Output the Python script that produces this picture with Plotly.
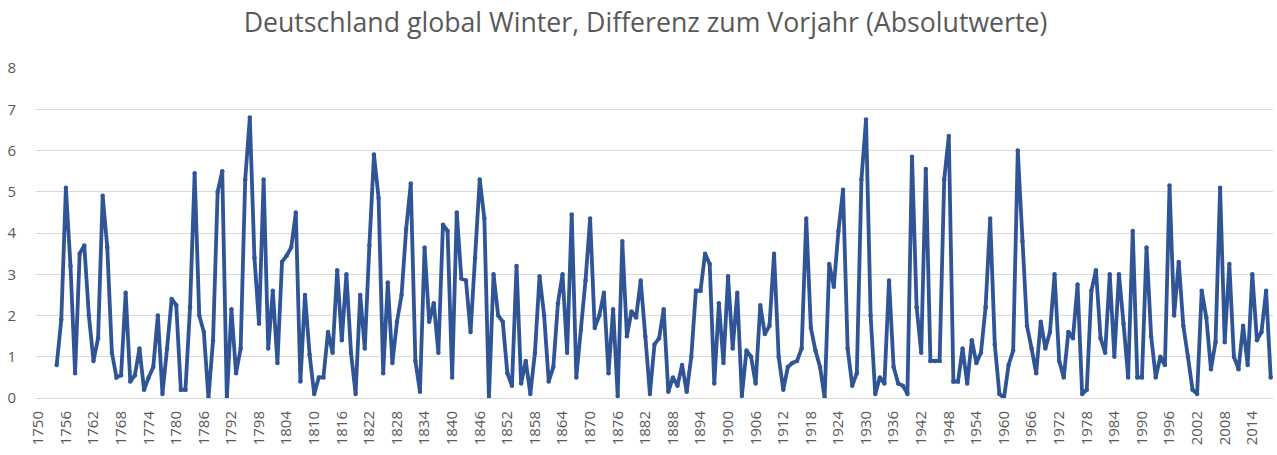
import plotly.graph_objects as go

years = list(range(1754, 2019))

values = [
    0.8, 1.9, 5.1, 3.2, 0.6, 3.5, 3.7, 2.0, 0.9, 1.45,            # 1754-1763
    4.9, 3.65, 1.1, 0.5, 0.55, 2.55, 0.4, 0.55, 1.2, 0.2,         # 1764-1773
    0.5, 0.75, 2.0, 0.1, 1.2, 2.4, 2.25, 0.2, 0.2, 2.2,           # 1774-1783
    5.45, 2.0, 1.6, 0.0, 1.4, 5.0, 5.5, 0.0, 2.15, 0.6,           # 1784-1793
    1.2, 5.3, 6.8, 3.4, 1.8, 5.3, 1.2, 2.6, 0.85, 3.3,            # 1794-1803
    3.45, 3.65, 4.5, 0.4, 2.5, 1.05, 0.1, 0.5, 0.5, 1.6,          # 1804-1813
    1.1, 3.1, 1.4, 3.0, 1.1, 0.1, 2.5, 1.2, 3.7, 5.9,             # 1814-1823
    4.85, 0.6, 2.8, 0.85, 1.85, 2.5, 4.1, 5.2, 0.9, 0.15,         # 1824-1833
    3.65, 1.85, 2.3, 1.1, 4.2, 4.05, 0.5, 4.5, 2.9, 2.85,         # 1834-1843
    1.6, 3.4, 5.3, 4.35, 0.0, 3.0, 2.0, 1.85, 0.6, 0.3,           # 1844-1853
    3.2, 0.35, 0.9, 0.1, 1.1, 2.95, 2.0, 0.4, 0.75, 2.3,          # 1854-1863
    3.0, 1.1, 4.45, 0.5, 1.65, 2.85, 4.35, 1.7, 2.0, 2.55,        # 1864-1873
    0.6, 2.15, 0.05, 3.8, 1.5, 2.1, 1.95, 2.85, 1.5, 0.1,         # 1874-1883
    1.3, 1.45, 2.15, 0.15, 0.5, 0.3, 0.8, 0.15, 1.0, 2.6,         # 1884-1893
    2.6, 3.5, 3.25, 0.35, 2.3, 0.85, 2.95, 1.2, 2.55, 0.05,       # 1894-1903
    1.15, 1.0, 0.35, 2.25, 1.55, 1.75, 3.5, 1.0, 0.2, 0.75,       # 1904-1913
    0.85, 0.9, 1.2, 4.35, 1.7, 1.15, 0.75, 0.0, 3.25, 2.7,        # 1914-1923
    4.05, 5.05, 1.2, 0.3, 0.6, 5.3, 6.75, 2.0, 0.1, 0.5,          # 1924-1933
    0.35, 2.85, 0.75, 0.35, 0.3, 0.1, 5.85, 2.2, 1.1, 5.55,       # 1934-1943
    0.9, 0.9, 0.9, 5.3, 6.35, 0.4, 0.4, 1.2, 0.35, 1.4,           # 1944-1953
    0.85, 1.1, 2.2, 4.35, 1.3, 0.1, 0.0, 0.8, 1.15, 6.0,          # 1954-1963
    3.8, 1.75, 1.2, 0.6, 1.85, 1.2, 1.6, 3.0, 0.9, 0.5,           # 1964-1973
    1.6, 1.45, 2.75, 0.1, 0.2, 2.6, 3.1, 1.45, 1.1, 3.0,          # 1974-1983
    1.0, 3.0, 1.8, 0.5, 4.05, 0.5, 0.5, 3.65, 1.5, 0.5,           # 1984-1993
    1.0, 0.8, 5.15, 2.0, 3.3, 1.75, 1.0, 0.2, 0.1, 2.6,           # 1994-2003
    1.95, 0.7, 1.35, 5.1, 1.35, 3.25, 1.0, 0.7, 1.75, 0.8,        # 2004-2013
    3.0, 1.4, 1.6, 2.6, 0.5,                                      # 2014-2018
]

tick_years = list(range(1750, 2015, 6))
tick_labels = [str(y) for y in tick_years]
y_ticks = list(range(0, 9))

title_text = "Deutschland global Winter, Differenz zum Vorjahr (Absolutwerte)"

line_color = "#2F5597"
grid_color = "#D9D9D9"
text_color = "#595959"

fig = go.Figure()
fig.add_trace(go.Scatter(
    x=years, y=values, mode="lines+markers",
    line=dict(color=line_color, width=3.8),
    marker=dict(color=line_color, size=4.5),
    hoverinfo="x+y", showlegend=False,
))

fig.update_layout(
    width=1277, height=455,
    margin=dict(l=36, r=4, t=68, b=57),
    paper_bgcolor="white", plot_bgcolor="white",
    title=dict(text=title_text, x=0.5 + 7 / 1277, xanchor="center", yref="container",
               y=1 - 23 / 455, yanchor="middle",
               font=dict(family="Open Sans", size=26.7, color=text_color)),
    font=dict(family="Open Sans", color=text_color),
)
fig.update_xaxes(
    range=[1749.5, 2018.5], tickmode="array", tickvals=tick_years, ticktext=tick_labels,
    tickangle=-90, tickfont=dict(size=15, color=text_color),
    showgrid=False, zeroline=False, showline=True, linecolor=grid_color, linewidth=1,
    ticks="outside", ticklen=6, tickcolor="rgba(0,0,0,0)", automargin=False,
)
fig.update_yaxes(
    range=[0, 8], tickmode="array", tickvals=y_ticks,
    tickfont=dict(size=15, color=text_color),
    showgrid=True, gridcolor=grid_color, gridwidth=1, zeroline=False, showline=False,
    ticks="outside", ticklen=16, tickcolor="rgba(0,0,0,0)", automargin=False,
)

# Remove the browser's default 8px body margin so the figure fills the window.
fig.write_html("out.html", config={"displayModeBar": False},
               post_script="document.body.style.margin='0';")
